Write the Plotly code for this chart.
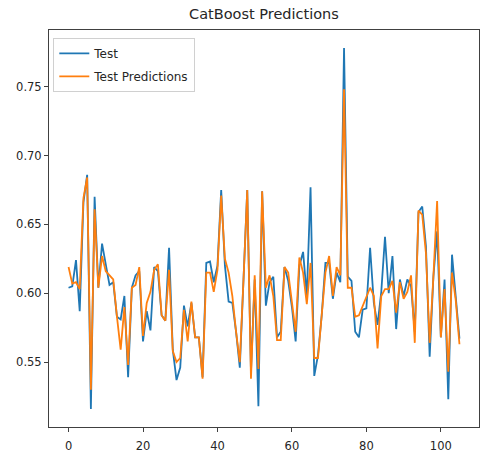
import plotly.graph_objects as go

test_values = [
    0.604, 0.605, 0.624, 0.587, 0.666, 0.686, 0.516, 0.670, 0.604, 0.636,
    0.621, 0.606, 0.608, 0.583, 0.581, 0.598, 0.539, 0.604, 0.613, 0.616,
    0.565, 0.587, 0.573, 0.619, 0.616, 0.584, 0.580, 0.633, 0.559, 0.537,
    0.546, 0.591, 0.576, 0.593, 0.568, 0.568, 0.539, 0.622, 0.623, 0.608,
    0.620, 0.675, 0.620, 0.594, 0.593, 0.572, 0.546, 0.610, 0.675, 0.543,
    0.610, 0.518, 0.674, 0.591, 0.608, 0.612, 0.568, 0.572, 0.619, 0.609,
    0.590, 0.565, 0.620, 0.630, 0.598, 0.677, 0.540, 0.555, 0.584, 0.622,
    0.622, 0.596, 0.615, 0.608, 0.778, 0.612, 0.609, 0.572, 0.568, 0.588,
    0.589, 0.633, 0.593, 0.577, 0.601, 0.641, 0.600, 0.627, 0.574, 0.610,
    0.598, 0.610, 0.605, 0.572, 0.659, 0.663, 0.634, 0.554, 0.612, 0.645,
    0.568, 0.610, 0.523, 0.628, 0.600, 0.567,
]

pred_values = [
    0.619, 0.607, 0.608, 0.603, 0.669, 0.684, 0.530, 0.661, 0.604, 0.627,
    0.616, 0.613, 0.610, 0.583, 0.559, 0.590, 0.548, 0.604, 0.606, 0.619,
    0.569, 0.593, 0.601, 0.617, 0.621, 0.584, 0.580, 0.617, 0.558, 0.550,
    0.553, 0.588, 0.565, 0.594, 0.568, 0.568, 0.538, 0.615, 0.615, 0.601,
    0.617, 0.671, 0.625, 0.615, 0.598, 0.572, 0.550, 0.610, 0.675, 0.538,
    0.613, 0.545, 0.674, 0.604, 0.613, 0.598, 0.566, 0.566, 0.619, 0.615,
    0.595, 0.572, 0.626, 0.615, 0.592, 0.622, 0.553, 0.553, 0.584, 0.615,
    0.627, 0.598, 0.619, 0.613, 0.748, 0.604, 0.604, 0.583, 0.584, 0.591,
    0.598, 0.604, 0.598, 0.560, 0.598, 0.603, 0.603, 0.609, 0.586, 0.608,
    0.596, 0.601, 0.613, 0.564, 0.660, 0.657, 0.629, 0.564, 0.612, 0.667,
    0.568, 0.603, 0.543, 0.615, 0.595, 0.563,
]

index = list(range(len(test_values)))
x_ticks = [0, 20, 40, 60, 80, 100]
y_ticks = [0.55, 0.60, 0.65, 0.70, 0.75]

FONT = "DejaVu Sans"
TXT = "#262626"

fig = go.Figure()
fig.add_trace(go.Scatter(x=index, y=test_values, mode="lines", name="Test",
                         legendgroup="a",
                         line=dict(color="#1f77b4", width=1.8)))
fig.add_trace(go.Scatter(x=index, y=pred_values, mode="lines", name="Test Predictions",
                         legendgroup="b",
                         line=dict(color="#ff7f0e", width=1.8)))

n = len(index)
xpad = (n - 1) * 0.05
ymin = min(min(test_values), min(pred_values))
ymax = max(max(test_values), max(pred_values))
ypad = (ymax - ymin) * 0.05

axis_common = dict(
    showgrid=False, zeroline=False, showline=True, mirror=True,
    linecolor="#404040", linewidth=1,
    ticks="outside", ticklen=4, tickwidth=1, tickcolor="#404040",
    tickfont=dict(family=FONT, size=11.5, color=TXT),
)

fig.update_layout(
    width=481, height=455,
    margin=dict(l=49, r=2, t=30, b=28),
    paper_bgcolor="white", plot_bgcolor="white",
    title=dict(text="CatBoost Predictions", x=0.5488, xanchor="center",
               y=1 - 14 / 455, yanchor="middle",
               font=dict(family=FONT, size=14.5, color=TXT)),
    xaxis=dict(range=[-xpad, (n - 1) + xpad], tickvals=x_ticks,
               ticklabelstandoff=4, **axis_common),
    yaxis=dict(range=[ymin - ypad, ymax + ypad], tickvals=y_ticks,
               tickformat=".2f", **axis_common),
    legend=dict(x=0.01, y=0.98, xanchor="left", yanchor="top",
                bgcolor="rgba(255,255,255,0.85)", bordercolor="#d0d0d0",
                borderwidth=1, font=dict(family=FONT, size=12, color=TXT),
                itemwidth=30, traceorder="grouped", tracegroupgap=4),
    showlegend=True,
)

fig.write_html("out.html")
